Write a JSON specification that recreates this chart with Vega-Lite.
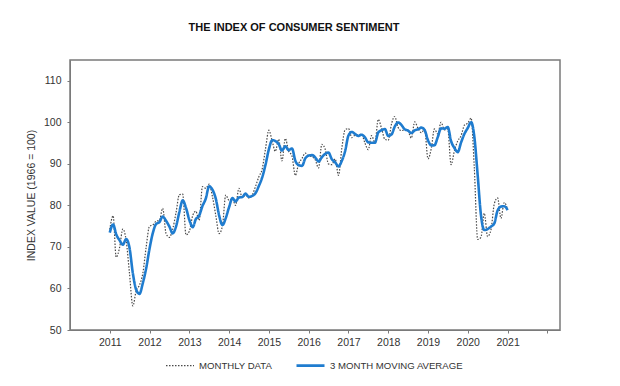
{
  "$schema": "https://vega.github.io/schema/vega-lite/v6.json",
  "width": 490,
  "height": 270,
  "autosize": "none",
  "padding": {"left": 70, "top": 60, "right": 60, "bottom": 56},
  "background": "white",
  "title": {
    "text": "THE INDEX OF CONSUMER SENTIMENT",
    "font": "Liberation Sans",
    "fontSize": 11,
    "fontWeight": "bold",
    "color": "#111",
    "anchor": "middle",
    "offset": 27,
    "dx": -21
  },
  "config": {
    "view": {"stroke": "#7a7a7a", "strokeWidth": 1.5},
    "axis": {
      "labelFont": "Liberation Sans",
      "titleFont": "Liberation Sans",
      "labelColor": "#333",
      "titleColor": "#333",
      "domainColor": "#7a7a7a",
      "tickColor": "#7a7a7a",
      "grid": false
    },
    "legend": {"labelFont": "Liberation Sans", "labelColor": "#333"}
  },
  "data": {
    "values": [
      {"date": "2011-01", "monthly": 74.2, "avg": 73.43},
      {"date": "2011-02", "monthly": 77.5, "avg": 75.4},
      {"date": "2011-03", "monthly": 67.5, "avg": 73.07},
      {"date": "2011-04", "monthly": 69.8, "avg": 71.6},
      {"date": "2011-05", "monthly": 74.3, "avg": 70.53},
      {"date": "2011-06", "monthly": 71.5, "avg": 71.87},
      {"date": "2011-07", "monthly": 63.7, "avg": 69.83},
      {"date": "2011-08", "monthly": 55.8, "avg": 63.67},
      {"date": "2011-09", "monthly": 59.5, "avg": 59.67},
      {"date": "2011-10", "monthly": 60.8, "avg": 58.7},
      {"date": "2011-11", "monthly": 63.7, "avg": 61.33},
      {"date": "2011-12", "monthly": 69.9, "avg": 64.8},
      {"date": "2012-01", "monthly": 75.0, "avg": 69.53},
      {"date": "2012-02", "monthly": 75.3, "avg": 73.4},
      {"date": "2012-03", "monthly": 76.2, "avg": 75.5},
      {"date": "2012-04", "monthly": 76.4, "avg": 75.97},
      {"date": "2012-05", "monthly": 79.3, "avg": 77.3},
      {"date": "2012-06", "monthly": 73.2, "avg": 76.3},
      {"date": "2012-07", "monthly": 72.3, "avg": 74.93},
      {"date": "2012-08", "monthly": 74.3, "avg": 73.27},
      {"date": "2012-09", "monthly": 78.3, "avg": 74.97},
      {"date": "2012-10", "monthly": 82.6, "avg": 78.4},
      {"date": "2012-11", "monthly": 82.7, "avg": 81.2},
      {"date": "2012-12", "monthly": 72.9, "avg": 79.4},
      {"date": "2013-01", "monthly": 73.8, "avg": 76.47},
      {"date": "2013-02", "monthly": 77.6, "avg": 74.77},
      {"date": "2013-03", "monthly": 78.6, "avg": 76.67},
      {"date": "2013-04", "monthly": 76.4, "avg": 77.53},
      {"date": "2013-05", "monthly": 84.5, "avg": 79.83},
      {"date": "2013-06", "monthly": 84.1, "avg": 81.67},
      {"date": "2013-07", "monthly": 85.1, "avg": 84.57},
      {"date": "2013-08", "monthly": 82.1, "avg": 83.77},
      {"date": "2013-09", "monthly": 77.5, "avg": 81.57},
      {"date": "2013-10", "monthly": 73.2, "avg": 77.6},
      {"date": "2013-11", "monthly": 75.1, "avg": 75.27},
      {"date": "2013-12", "monthly": 82.5, "avg": 76.93},
      {"date": "2014-01", "monthly": 81.2, "avg": 79.6},
      {"date": "2014-02", "monthly": 81.6, "avg": 81.77},
      {"date": "2014-03", "monthly": 80.0, "avg": 80.93},
      {"date": "2014-04", "monthly": 84.1, "avg": 81.9},
      {"date": "2014-05", "monthly": 81.9, "avg": 82.0},
      {"date": "2014-06", "monthly": 82.5, "avg": 82.83},
      {"date": "2014-07", "monthly": 81.8, "avg": 82.07},
      {"date": "2014-08", "monthly": 82.5, "avg": 82.27},
      {"date": "2014-09", "monthly": 84.6, "avg": 82.97},
      {"date": "2014-10", "monthly": 86.9, "avg": 84.67},
      {"date": "2014-11", "monthly": 88.8, "avg": 86.77},
      {"date": "2014-12", "monthly": 93.6, "avg": 89.77},
      {"date": "2015-01", "monthly": 98.1, "avg": 93.5},
      {"date": "2015-02", "monthly": 95.4, "avg": 95.7},
      {"date": "2015-03", "monthly": 93.0, "avg": 95.5},
      {"date": "2015-04", "monthly": 95.9, "avg": 94.77},
      {"date": "2015-05", "monthly": 90.7, "avg": 93.2},
      {"date": "2015-06", "monthly": 96.1, "avg": 94.23},
      {"date": "2015-07", "monthly": 93.1, "avg": 93.3},
      {"date": "2015-08", "monthly": 91.9, "avg": 93.7},
      {"date": "2015-09", "monthly": 87.2, "avg": 90.73},
      {"date": "2015-10", "monthly": 90.0, "avg": 89.7},
      {"date": "2015-11", "monthly": 91.3, "avg": 89.5},
      {"date": "2015-12", "monthly": 92.6, "avg": 91.3},
      {"date": "2016-01", "monthly": 92.0, "avg": 91.97},
      {"date": "2016-02", "monthly": 91.7, "avg": 92.1},
      {"date": "2016-03", "monthly": 91.0, "avg": 91.57},
      {"date": "2016-04", "monthly": 89.0, "avg": 90.57},
      {"date": "2016-05", "monthly": 94.7, "avg": 91.57},
      {"date": "2016-06", "monthly": 93.5, "avg": 92.4},
      {"date": "2016-07", "monthly": 90.0, "avg": 92.73},
      {"date": "2016-08", "monthly": 89.8, "avg": 91.1},
      {"date": "2016-09", "monthly": 91.2, "avg": 90.33},
      {"date": "2016-10", "monthly": 87.2, "avg": 89.4},
      {"date": "2016-11", "monthly": 93.8, "avg": 90.73},
      {"date": "2016-12", "monthly": 98.2, "avg": 93.07},
      {"date": "2017-01", "monthly": 98.5, "avg": 96.83},
      {"date": "2017-02", "monthly": 96.3, "avg": 97.67},
      {"date": "2017-03", "monthly": 96.9, "avg": 97.23},
      {"date": "2017-04", "monthly": 97.0, "avg": 96.73},
      {"date": "2017-05", "monthly": 97.1, "avg": 97.0},
      {"date": "2017-06", "monthly": 95.0, "avg": 96.37},
      {"date": "2017-07", "monthly": 93.4, "avg": 95.17},
      {"date": "2017-08", "monthly": 96.8, "avg": 95.07},
      {"date": "2017-09", "monthly": 95.1, "avg": 95.1},
      {"date": "2017-10", "monthly": 100.7, "avg": 97.53},
      {"date": "2017-11", "monthly": 98.5, "avg": 98.1},
      {"date": "2017-12", "monthly": 95.9, "avg": 98.37},
      {"date": "2018-01", "monthly": 95.7, "avg": 96.7},
      {"date": "2018-02", "monthly": 99.7, "avg": 97.1},
      {"date": "2018-03", "monthly": 101.4, "avg": 98.93},
      {"date": "2018-04", "monthly": 98.8, "avg": 99.97},
      {"date": "2018-05", "monthly": 98.0, "avg": 99.4},
      {"date": "2018-06", "monthly": 98.2, "avg": 98.33},
      {"date": "2018-07", "monthly": 97.9, "avg": 98.03},
      {"date": "2018-08", "monthly": 96.2, "avg": 97.43},
      {"date": "2018-09", "monthly": 100.1, "avg": 98.07},
      {"date": "2018-10", "monthly": 98.6, "avg": 98.3},
      {"date": "2018-11", "monthly": 97.5, "avg": 98.73},
      {"date": "2018-12", "monthly": 98.3, "avg": 98.13},
      {"date": "2019-01", "monthly": 91.2, "avg": 95.67},
      {"date": "2019-02", "monthly": 93.8, "avg": 94.43},
      {"date": "2019-03", "monthly": 98.4, "avg": 94.47},
      {"date": "2019-04", "monthly": 97.2, "avg": 96.47},
      {"date": "2019-05", "monthly": 100.0, "avg": 98.53},
      {"date": "2019-06", "monthly": 98.2, "avg": 98.47},
      {"date": "2019-07", "monthly": 98.4, "avg": 98.87},
      {"date": "2019-08", "monthly": 89.8, "avg": 95.47},
      {"date": "2019-09", "monthly": 93.2, "avg": 93.8},
      {"date": "2019-10", "monthly": 95.5, "avg": 92.83},
      {"date": "2019-11", "monthly": 96.8, "avg": 95.17},
      {"date": "2019-12", "monthly": 99.3, "avg": 97.2},
      {"date": "2020-01", "monthly": 99.8, "avg": 98.63},
      {"date": "2020-02", "monthly": 101.0, "avg": 100.03},
      {"date": "2020-03", "monthly": 89.1, "avg": 96.63},
      {"date": "2020-04", "monthly": 71.8, "avg": 87.3},
      {"date": "2020-05", "monthly": 72.3, "avg": 77.73},
      {"date": "2020-06", "monthly": 78.1, "avg": 74.07},
      {"date": "2020-07", "monthly": 72.5, "avg": 74.3},
      {"date": "2020-08", "monthly": 74.1, "avg": 74.9},
      {"date": "2020-09", "monthly": 80.4, "avg": 75.67},
      {"date": "2020-10", "monthly": 81.8, "avg": 78.77},
      {"date": "2020-11", "monthly": 76.9, "avg": 79.7},
      {"date": "2020-12", "monthly": 80.7, "avg": 79.8},
      {"date": "2021-01", "monthly": 79.0, "avg": 78.87}
    ]
  },
  "transform": [
    {"fold": ["monthly", "avg"], "as": ["series", "value"]}
  ],
  "mark": {"type": "line", "strokeJoin": "round", "interpolate": "monotone"},
  "encoding": {
    "x": {
      "field": "date",
      "type": "temporal",
      "scale": {
        "type": "utc",
        "domain": [
          {"year": 2010, "month": 1, "date": 1, "utc": true},
          {"year": 2022, "month": 4, "date": 27, "utc": true}
        ]
      },
      "axis": {
        "title": null,
        "values": [
          {"year": 2011, "month": 1, "date": 1, "utc": true},
          {"year": 2012, "month": 1, "date": 1, "utc": true},
          {"year": 2013, "month": 1, "date": 1, "utc": true},
          {"year": 2014, "month": 1, "date": 1, "utc": true},
          {"year": 2015, "month": 1, "date": 1, "utc": true},
          {"year": 2016, "month": 1, "date": 1, "utc": true},
          {"year": 2017, "month": 1, "date": 1, "utc": true},
          {"year": 2018, "month": 1, "date": 1, "utc": true},
          {"year": 2019, "month": 1, "date": 1, "utc": true},
          {"year": 2020, "month": 1, "date": 1, "utc": true},
          {"year": 2021, "month": 1, "date": 1, "utc": true},
          {"year": 2022, "month": 1, "date": 1, "utc": true}
        ],
        "labelExpr": "utcyear(datum.value) == 2022 ? '' : utcFormat(datum.value, '%Y')",
        "labelFontSize": 10.5,
        "labelFontWeight": "normal",
        "tickSize": 3,
        "labelPadding": 4,
        "labelFlush": false,
        "labelOverlap": false
      }
    },
    "y": {
      "field": "value",
      "type": "quantitative",
      "scale": {"domain": [50, 115], "nice": false, "zero": false},
      "axis": {
        "title": "INDEX VALUE (1966 = 100)",
        "titleFontSize": 10.5,
        "titleFontWeight": "normal",
        "values": [50, 60, 70, 80, 90, 100, 110],
        "labelFontSize": 10.5,
        "tickSize": 3,
        "labelPadding": 6,
        "titlePadding": 7
      }
    },
    "color": {
      "field": "series",
      "type": "nominal",
      "scale": {"domain": ["monthly", "avg"], "range": ["#4a4a4a", "#1f7ccf"]},
      "legend": {
        "title": null,
        "orient": "none",
        "direction": "horizontal",
        "legendX": 95,
        "legendY": 290,
        "labelExpr": "datum.label == 'monthly' ? 'MONTHLY DATA' : '3 MONTH MOVING AVERAGE'",
        "labelFontSize": 9.6,
        "symbolType": "stroke",
        "symbolSize": 784,
        "columnPadding": 18,
        "labelOffset": 4
      }
    },
    "strokeDash": {
      "field": "series",
      "type": "nominal",
      "scale": {"domain": ["monthly", "avg"], "range": [[1.5, 1.5], [1, 0]]},
      "legend": {
        "title": null,
        "orient": "none",
        "direction": "horizontal",
        "legendX": 95,
        "legendY": 290,
        "labelExpr": "datum.label == 'monthly' ? 'MONTHLY DATA' : '3 MONTH MOVING AVERAGE'",
        "labelFontSize": 9.6,
        "symbolType": "stroke",
        "symbolSize": 784,
        "columnPadding": 18,
        "labelOffset": 4
      }
    },
    "strokeWidth": {
      "field": "series",
      "type": "nominal",
      "scale": {"domain": ["monthly", "avg"], "range": [1.2, 2.6]},
      "legend": {
        "title": null,
        "orient": "none",
        "direction": "horizontal",
        "legendX": 95,
        "legendY": 290,
        "labelExpr": "datum.label == 'monthly' ? 'MONTHLY DATA' : '3 MONTH MOVING AVERAGE'",
        "labelFontSize": 9.6,
        "symbolType": "stroke",
        "symbolSize": 784,
        "columnPadding": 18,
        "labelOffset": 4
      }
    }
  }
}
